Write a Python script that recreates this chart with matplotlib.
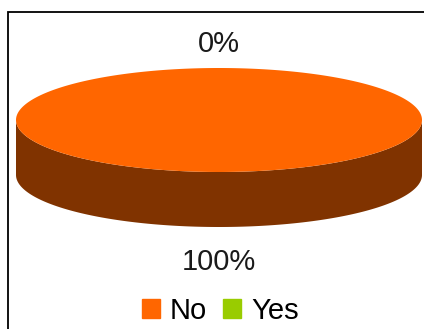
import matplotlib.pyplot as plt
import matplotlib.patches as mpatches
import numpy as np

plt.rcParams['font.family'] = ['Liberation Sans', 'DejaVu Sans']

# data
labels = ['No', 'Yes']
values = [100, 0]
top_colors = ['#FF6600', '#99CC00']
side_colors = ['#803300', '#4C6600']

# ellipse geometry (pixel space)
cx, cy = 219, 120
a, b = 203, 52
depth = 55

fig = plt.figure(figsize=(4.24, 3.29), dpi=100)
ax = fig.add_axes([0, 0, 1, 1])
ax.set_xlim(0, 424)
ax.set_ylim(329, 0)
ax.axis('off')

# frame around chart area
fig.patches.append(mpatches.Rectangle((8 / 424, -0.1), 1.0, 1 - 12 / 329 + 0.1,
                                      transform=fig.transFigure, fill=False,
                                      edgecolor='black', linewidth=1.3))

total = float(sum(values))
angles = np.cumsum([0] + [v / total * 360 for v in values])


def pt(theta, dy=0):
    # theta clockwise from top, degrees
    t = np.radians(theta)
    return cx + a * np.sin(t), cy - b * np.cos(t) + dy


# side walls (front half: theta 90..270)
for i in range(len(values)):
    s, e = max(angles[i], 90), min(angles[i + 1], 270)
    if e > s:
        th = np.linspace(s, e, 200)
        x, y = pt(th)
        xs = np.concatenate([x, x[::-1]])
        ys = np.concatenate([y, (y + depth)[::-1]])
        ax.fill(xs, ys, color=side_colors[i], lw=0)

# top faces
for i in range(len(values)):
    s, e = angles[i], angles[i + 1]
    if e > s:
        th = np.linspace(s, e, 400)
        x, y = pt(th)
        if e - s < 360:
            x = np.concatenate([[cx], x])
            y = np.concatenate([[cy], y])
        ax.fill(x, y, color=top_colors[i], lw=0)

# percentage labels
for i in range(len(values)):
    mid = (angles[i] + angles[i + 1]) / 2
    t = np.radians(mid)
    lx = cx + (a + 20) * np.sin(t)
    ly = cy - (b + 24) * np.cos(t)
    if np.cos(t) < 0:
        ly += depth + 11
    ax.text(lx, ly, f'{values[i] / total:.0%}', ha='center', va='center',
            fontsize=21, color='#1a1a1a')

handles = [mpatches.Patch(color=c, label=l) for c, l in zip(top_colors, labels)]
fig.legend(handles=handles, loc='center', bbox_to_anchor=(0.52, 0.055), ncol=2,
           frameon=False, fontsize=21, handlelength=0.6, handleheight=0.6,
           handletextpad=0.35, columnspacing=0.55, borderpad=0)

plt.savefig('out.png', dpi=100)
